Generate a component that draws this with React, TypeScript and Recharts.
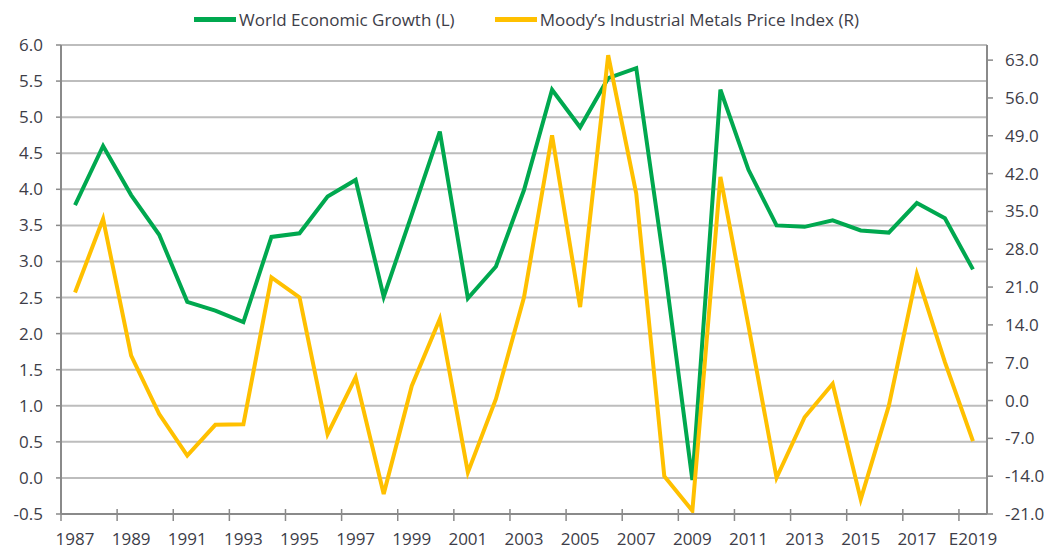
import React from 'react';
import { LineChart, Line, XAxis, YAxis, CartesianGrid } from 'recharts';

// years on the category axis (last one is an estimate)
const years = [
  '1987', '1988', '1989', '1990', '1991', '1992', '1993', '1994', '1995', '1996', '1997',
  '1998', '1999', '2000', '2001', '2002', '2003', '2004', '2005', '2006', '2007', '2008',
  '2009', '2010', '2011', '2012', '2013', '2014', '2015', '2016', '2017', '2018', 'E2019',
];

// World Economic Growth, % (left axis)
const growth = [
  3.78, 4.6, 3.92, 3.37, 2.44, 2.32, 2.16, 3.34, 3.39, 3.9, 4.13,
  2.51, 3.65, 4.8, 2.49, 2.93, 3.99, 5.38, 4.86, 5.54, 5.68, 2.95,
  -0.03, 5.38, 4.27, 3.5, 3.48, 3.57, 3.43, 3.4, 3.81, 3.6, 2.89,
];

// Moody's Industrial Metals Price Index, % y/y (right axis)
const metals = [
  20.0, 33.6, 8.3, -2.5, -10.2, -4.5, -4.4, 22.8, 19.1, -6.2, 4.3,
  -17.3, 2.7, 15.1, -13.3, 0.3, 19.1, 49.1, 17.3, 63.9, 38.3, -14.0,
  -20.4, 41.4, 13.8, -14.3, -3.1, 3.1, -18.3, -1.0, 23.4, 7.1, -7.5,
];

const leftTicks = [-0.5, 0, 0.5, 1, 1.5, 2, 2.5, 3, 3.5, 4, 4.5, 5, 5.5, 6];
const rightTicks = [-21, -14, -7, 0, 7, 14, 21, 28, 35, 42, 49, 56, 63];

const data = years.map((year, i) => ({ year, growth: growth[i], metals: metals[i] }));

const GREEN = '#00a84f';
const YELLOW = '#ffc000';
const GRID = '#bdbdbd';
const AXIS = '#8a8a8a';
const TEXT = '#3d3d48';
const FONT = '"Open Sans", sans-serif';

const PLOT_LEFT = 61;
const PLOT_RIGHT = 987;
const BAND = (PLOT_RIGHT - PLOT_LEFT) / years.length;

const XTick = (props: any) => {
  const { x, y, payload } = props;
  const bx = x - BAND / 2;
  return (
    <g>
      <line x1={bx} x2={bx} y1={y - 5} y2={y + 7} stroke={AXIS} strokeWidth={1.5} />
      <text x={x} y={y + 31} textAnchor="middle" fill={TEXT} fontSize={17} fontFamily={FONT}>
        {payload.value}
      </text>
    </g>
  );
};

const LegendItem = ({ color, label }: { color: string; label: string }) => (
  <div style={{ display: 'flex', alignItems: 'center' }}>
    <div style={{ width: 42, height: 5, background: color, marginRight: 3 }} />
    <span>{label}</span>
  </div>
);

const App: React.FC = () => {
  return (
    <div style={{ position: 'absolute', left: 0, top: 0, width: 1051, height: 550, background: '#fff' }}>
      <div
        style={{
          position: 'absolute',
          top: 8,
          left: 0,
          width: 1051,
          display: 'flex',
          justifyContent: 'center',
          gap: 40,
          fontFamily: FONT,
          fontSize: 17,
          color: TEXT,
          paddingLeft: 2,
          boxSizing: 'border-box',
        }}
      >
        <LegendItem color={GREEN} label="World Economic Growth (L)" />
        <LegendItem color={YELLOW} label="Moody’s Industrial Metals Price Index (R)" />
      </div>
      <LineChart width={1051} height={550} data={data} margin={{ top: 45, right: 0, bottom: 0, left: 0 }}>
        <CartesianGrid yAxisId="left" vertical={false} stroke={GRID} strokeWidth={2} />
        <XAxis
          dataKey="year"
          scale="band"
          interval={1}
          height={36}
          tickSize={0}
          tickMargin={0}
          tickLine={false}
          axisLine={{ stroke: AXIS, strokeWidth: 2 }}
          tick={<XTick />}
        />
        <YAxis
          yAxisId="left"
          orientation="left"
          width={PLOT_LEFT}
          domain={[-0.5, 6]}
          ticks={leftTicks}
          interval={0}
          tickFormatter={(v: number) => v.toFixed(1)}
          tickSize={5}
          tickMargin={13}
          tickLine={{ stroke: AXIS, strokeWidth: 1.5 }}
          axisLine={{ stroke: AXIS, strokeWidth: 2 }}
          tick={{ fill: TEXT, fontSize: 17, fontFamily: FONT }}
        />
        <YAxis
          yAxisId="right"
          orientation="right"
          width={1051 - PLOT_RIGHT}
          domain={[-21, 65.8]}
          ticks={rightTicks}
          interval={0}
          allowDataOverflow
          tickFormatter={(v: number) => v.toFixed(1)}
          tickSize={6}
          tickMargin={12}
          tickLine={{ stroke: AXIS, strokeWidth: 1.5 }}
          axisLine={{ stroke: AXIS, strokeWidth: 2 }}
          tick={{ fill: TEXT, fontSize: 17, fontFamily: FONT, textAnchor: 'start' }}
        />
        <Line
          yAxisId="left"
          type="linear"
          dataKey="growth"
          stroke={GREEN}
          strokeWidth={4}
          dot={false}
          isAnimationActive={false}
        />
        <Line
          yAxisId="right"
          type="linear"
          dataKey="metals"
          stroke={YELLOW}
          strokeWidth={4}
          dot={false}
          isAnimationActive={false}
        />
      </LineChart>
    </div>
  );
};

export default App;
